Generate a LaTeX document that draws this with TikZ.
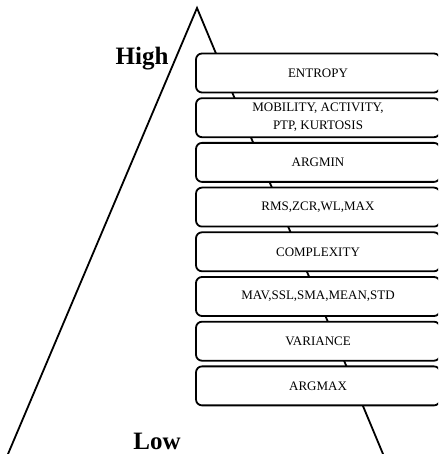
\documentclass[tikz,border=0pt]{standalone}
\usepackage{fontspec}
\setmainfont{Liberation Serif}
\usepackage{tikz}
\usetikzlibrary{positioning,calc}

\begin{document}
\begin{tikzpicture}[x=1pt, y=1pt,
    layer/.style={rectangle, draw=black, fill=white, line width=1.8pt, rounded corners=6pt,
      minimum width=244pt, minimum height=39pt, inner sep=0pt, outer sep=0pt,
      align=center, font=\fontsize{13}{18}\selectfont},
    level/.style={font=\fontsize{25}{30}\selectfont\bfseries, inner sep=0pt, anchor=base}]
        \useasboundingbox (0,0) rectangle (438,454);
        \begin{scope}
        \clip (0,0) rectangle (438,454);
        % Pyramid outline
        \coordinate (apex) at (197,446);
        \coordinate (baseL) at (8,0);
        \coordinate (baseR) at (383,0);
        \draw[line width=1.8pt, line join=miter] ($(baseL)!-0.05!(apex)$) -- (apex) -- ($(baseR)!-0.05!(apex)$);
        % Feature layers
        \node[layer] (entropy) at (318,381) {ENTROPY};
        \node[layer, below=5.7pt of entropy] (mobility) {MOBILITY, ACTIVITY,\\PTP, KURTOSIS};
        \node[layer, below=5.7pt of mobility] (argmin) {ARGMIN};
        \node[layer, below=5.7pt of argmin] (rms) {RMS,ZCR,WL,MAX};
        \node[layer, below=5.7pt of rms] (complexity) {COMPLEXITY};
        \node[layer, below=5.7pt of complexity] (mav) {MAV,SSL,SMA,MEAN,STD};
        \node[layer, below=5.7pt of mav] (variance) {VARIANCE};
        \node[layer, below=5.7pt of variance] (argmax) {ARGMAX};
        \end{scope}
        % Labels
        \node[level] (high) at (142,389) {High};
        \node[level] (low) at (157,5) {Low};
      \end{tikzpicture}
\end{document}
